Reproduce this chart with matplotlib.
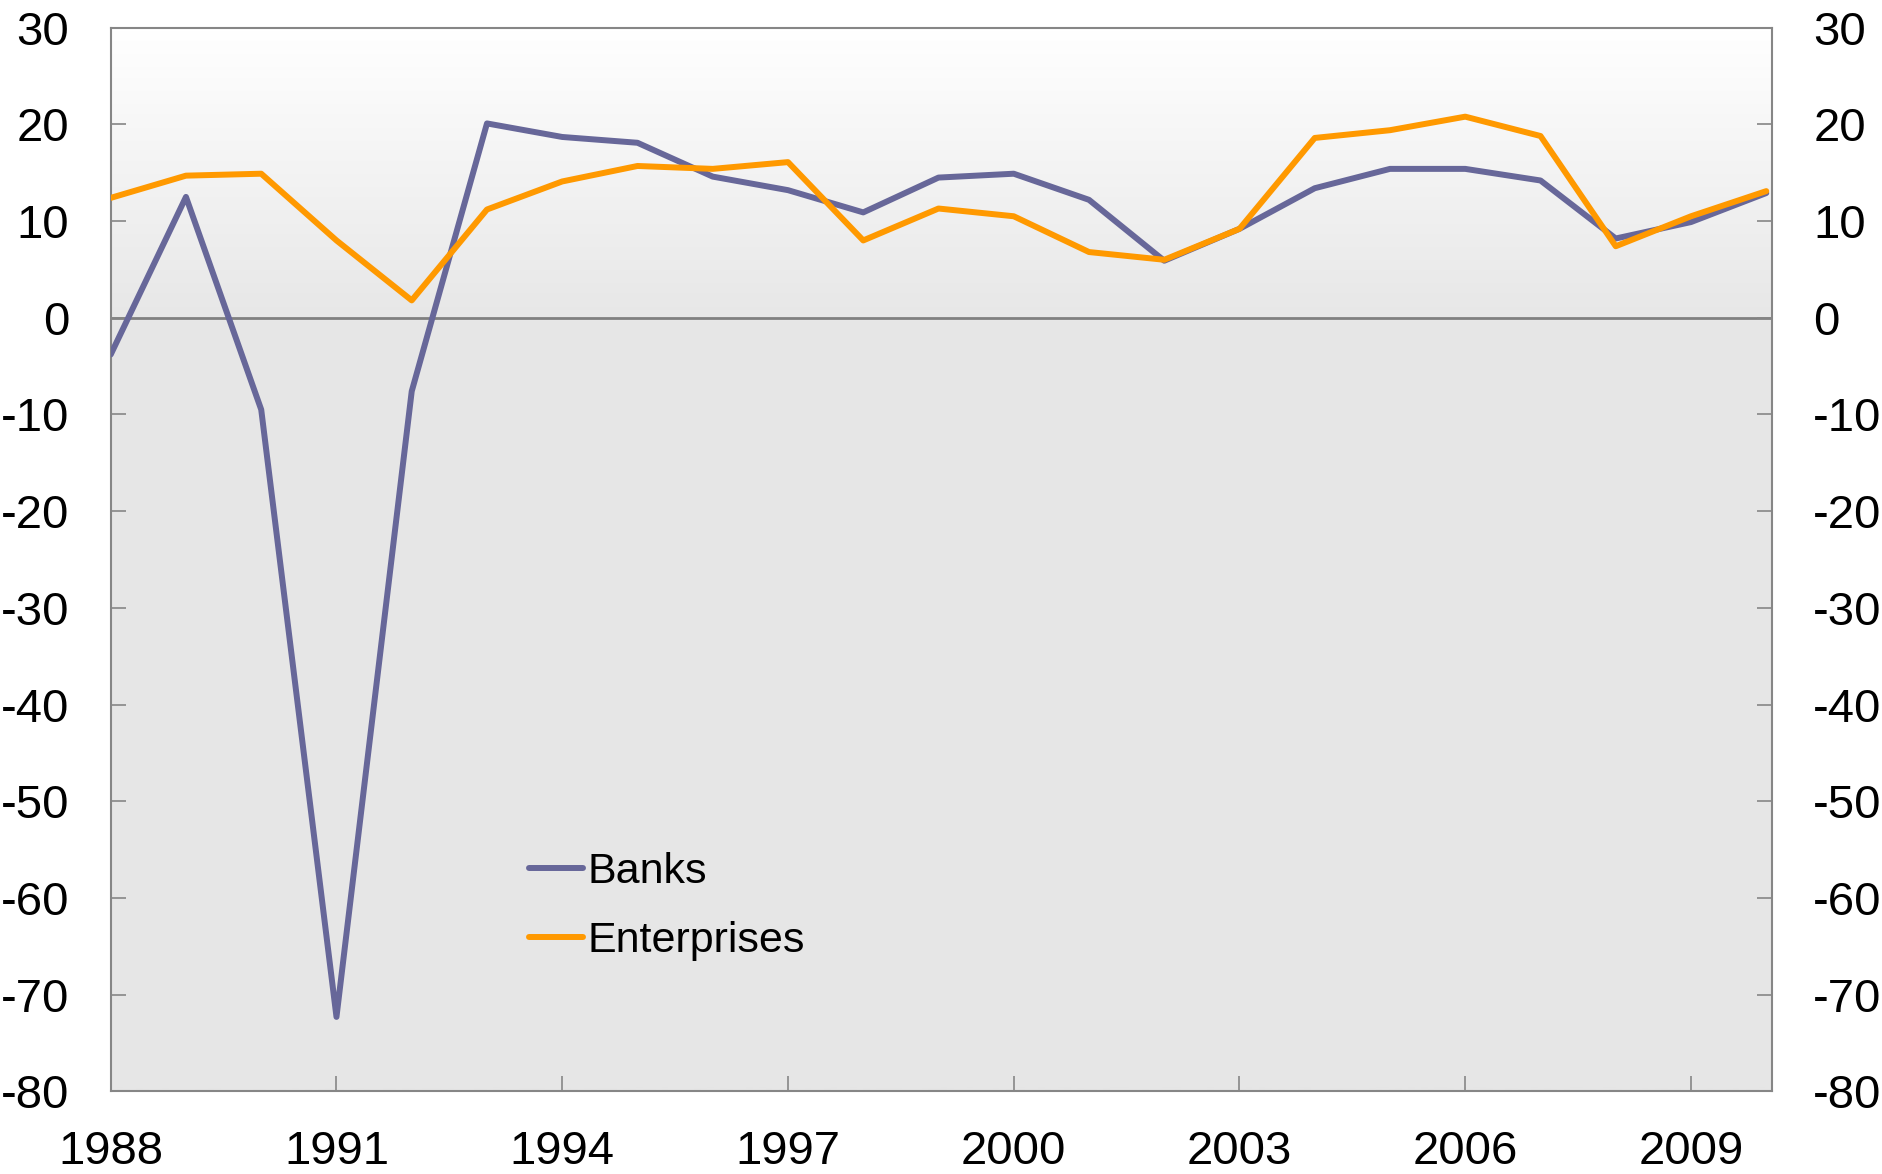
import numpy as np
import matplotlib
matplotlib.use("Agg")
import matplotlib.pyplot as plt
from matplotlib.colors import LinearSegmentedColormap

plt.rcParams['font.family'] = ['Liberation Sans', 'DejaVu Sans']
plt.rcParams['axes.unicode_minus'] = False

# data (annual, per cent)
years = list(range(1988, 2011))
banks = [-3.8, 12.5, -9.5, -72.3, -7.6, 20.1, 18.7, 18.1, 14.6, 13.2, 10.9, 14.5,
         14.9, 12.2, 5.9, 9.2, 13.4, 15.4, 15.4, 14.2, 8.2, 9.9, 12.9]
enterprises = [12.4, 14.7, 14.9, 8.0, 1.8, 11.2, 14.1, 15.7, 15.4, 16.1, 8.0, 11.3,
               10.5, 6.8, 6.0, 9.2, 18.6, 19.4, 20.8, 18.8, 7.4, 10.5, 13.1]
xticks = [1988, 1991, 1994, 1997, 2000, 2003, 2006, 2009]
yticks = list(range(-80, 31, 10))

col_banks = '#676799'
col_ent = '#ff9900'
grey = '#868686'

fig = plt.figure(figsize=(18.83, 11.74), dpi=100)
ax = fig.add_axes([0.0588, 0.0704, 0.9408 - 0.0588, 0.9764 - 0.0704])

x0, x1 = 1988, 2010.07
y0, y1 = -80, 30

# background: white at the top fading to light grey at zero, flat below
cmap = LinearSegmentedColormap.from_list(
    'bg', [(0, '#e6e6e6'), (80 / 110, '#e7e7e7'), (1, '#ffffff')])
z = np.linspace(y0, y1, 400).reshape(-1, 1)
ax.imshow(z, extent=[x0, x1, y0, y1], origin='lower', aspect='auto',
          cmap=cmap, vmin=y0, vmax=y1, zorder=0)

ax.axhline(0, color='#808080', lw=2.0, zorder=1)

ax.plot(years, banks, color=col_banks, lw=4.3, solid_joinstyle='round',
        solid_capstyle='round', label='Banks', zorder=3)
ax.plot(years, enterprises, color=col_ent, lw=4.3, solid_joinstyle='round',
        solid_capstyle='round', label='Enterprises', zorder=4)

ax.set_xlim(x0, x1)
ax.set_ylim(y0, y1)
ax.set_xticks(xticks)
ax.set_yticks(yticks)

for s in ax.spines.values():
    s.set_color(grey)
    s.set_linewidth(1.5)

ax.tick_params(axis='y', direction='in', length=11, width=1.2, color=grey,
               labelsize=34, pad=30, left=True, right=True,
               labelleft=True, labelright=True)
ax.tick_params(axis='x', direction='in', length=11, width=1.2, color=grey,
               labelsize=34, pad=28, top=False)

leg = ax.legend(loc='upper left', bbox_to_anchor=(529 / 1883, 1 - 852 / 1174),
                bbox_transform=fig.transFigure, frameon=False, fontsize=31,
                handlelength=1.25, handletextpad=0.12, borderpad=0,
                borderaxespad=0, labelspacing=0.68)

fig.savefig('out.png', dpi=100)
